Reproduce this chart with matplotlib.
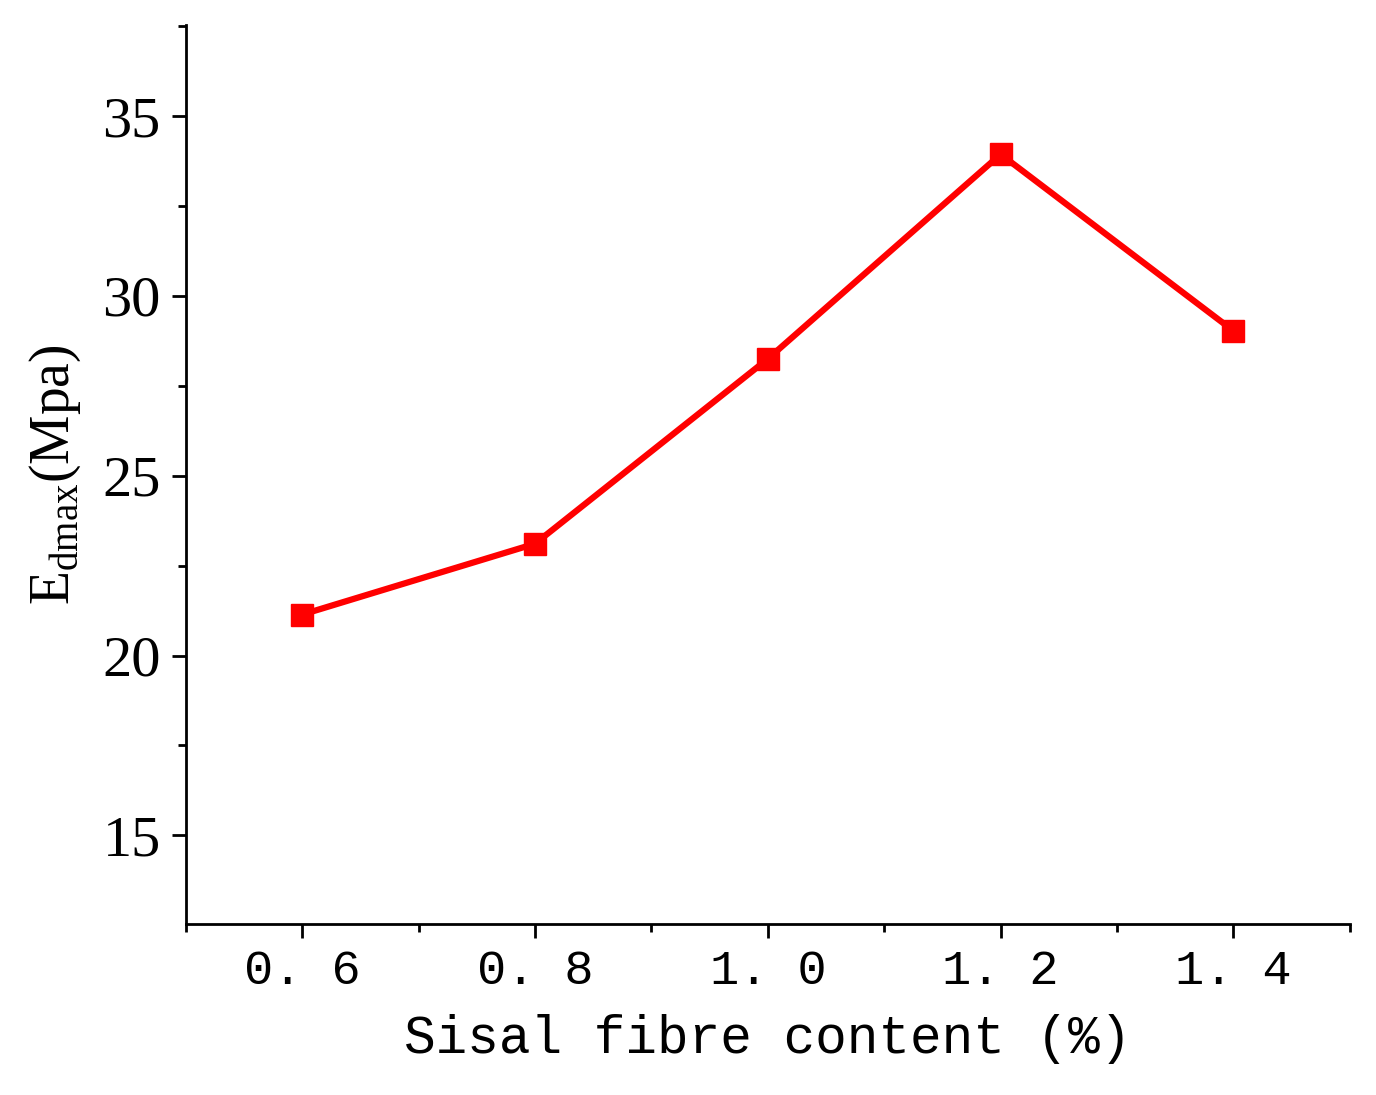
import matplotlib.pyplot as plt
from matplotlib.ticker import MultipleLocator

fibre_content = [0.6, 0.8, 1.0, 1.2, 1.4]
edmax = [21.14, 23.11, 28.25, 33.94, 29.03]
xtick_vals = [0.6, 0.8, 1.0, 1.2, 1.4]
xtick_labels = ["0. 6", "0. 8", "1. 0", "1. 2", "1. 4"]

fig = plt.figure(figsize=(13.76, 10.95), dpi=100)
ax = fig.add_axes([0.135, 0.156, 0.846, 0.821])

ax.plot(fibre_content, edmax, color="#ff0000", linewidth=4.5,
        marker="s", markersize=16)

ax.set_xlim(0.5, 1.5)
ax.set_ylim(12.53, 37.53)
ax.set_xticks(xtick_vals)
ax.set_xticklabels(xtick_labels, family="Liberation Mono", fontsize=35)
ax.xaxis.set_minor_locator(MultipleLocator(0.1))
ax.yaxis.set_major_locator(MultipleLocator(5))
ax.yaxis.set_minor_locator(MultipleLocator(2.5))
for lab in ax.get_yticklabels():
    lab.set_family("Liberation Serif")
    lab.set_fontsize(42)

for side in ["top", "right"]:
    ax.spines[side].set_visible(False)
for side in ["left", "bottom"]:
    ax.spines[side].set_linewidth(2)
ax.tick_params(which="major", direction="out", length=10, width=2, pad=8)
ax.tick_params(which="minor", direction="out", length=6, width=2)

ax.set_xlabel("Sisal fibre content (%)", family="Liberation Mono",
              fontsize=38, labelpad=14)
ax.set_ylabel(r"E$_{\mathregular{dmax}}$(Mpa)", family="Liberation Serif",
              fontsize=40, labelpad=14)

plt.savefig("out.png")
